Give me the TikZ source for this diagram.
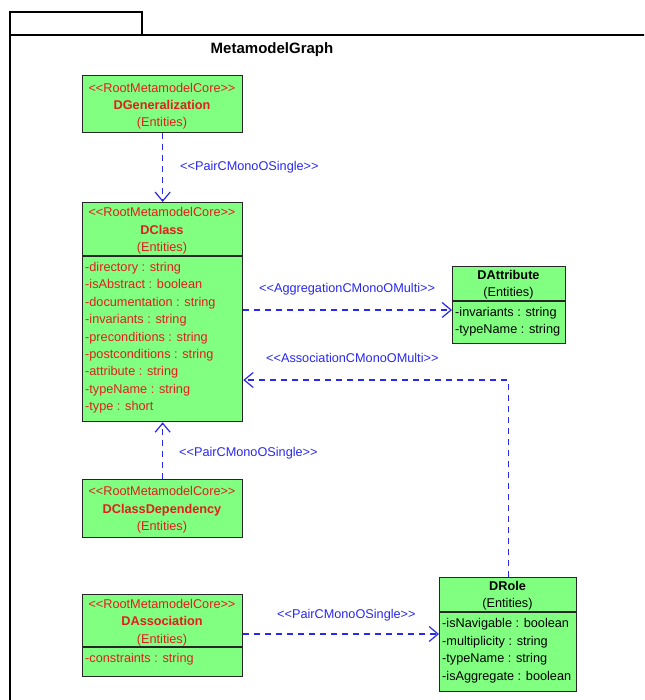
\documentclass[tikz,border=0pt]{standalone}
\usepackage{fontspec}
\setmainfont{Liberation Sans}
\usetikzlibrary{arrows.meta}
\definecolor{umlgreen}{RGB}{128,255,128}
\definecolor{umlred}{RGB}{226,30,30}
\definecolor{umlblue}{RGB}{40,40,240}
\newcommand{\lt}{<{}<}
\newcommand{\gt}{>{}>}
\begin{document}
\begin{tikzpicture}[x=1pt,y=-1pt,
  box/.style={draw=black!85, line width=1.3pt, fill=umlgreen, inner sep=0pt, anchor=north west},
  sepline/.style={draw=black!85, line width=1.3pt},
  txt/.style={font=\fontsize{12.7}{15}\selectfont, inner sep=0pt},
  stereo/.style={txt, text=umlred, anchor=base},
  nm/.style={txt, text=umlred, anchor=base, font=\fontsize{12.7}{15}\selectfont\bfseries},
  ent/.style={txt, text=umlred, anchor=base},
  attr/.style={txt, text=umlred, anchor=base west},
  bnm/.style={txt, text=black, anchor=base, font=\fontsize{12.7}{15}\selectfont\bfseries},
  bent/.style={txt, text=black, anchor=base},
  battr/.style={txt, text=black, anchor=base west},
  lbl/.style={txt, text=umlblue, anchor=base west},
  dep/.style={draw=umlblue, line width=1.2pt, dash pattern=on 6pt off 5pt,
    -{Straight Barb[length=9pt,width=15pt,line width=1.2pt]}}
]
\useasboundingbox (0,0) rectangle (644,700);
\clip (0,0) rectangle (644,700);
% package frame
\draw[line width=1.8pt] (10,720) -- (10,35) -- (660,35);
\draw[line width=1.8pt] (10,35) -- (10,12) -- (142,12) -- (142,35);
\node[font=\fontsize{15}{18}\selectfont\bfseries, inner sep=0pt, anchor=base] (title) at (272,54) {MetamodelGraph};

% DGeneralization
\node[box, minimum width=160pt, minimum height=57pt] (dgen) at (82,75) {};
\node[stereo] (dgen-s) at (162,92.5) {\lt RootMetamodelCore\gt};
\node[nm] (dgen-n) at (162,109.5) {DGeneralization};
\node[ent] (dgen-e) at (162,126.5) {(Entities)};

% DClass
\node[box, minimum width=160pt, minimum height=219pt] (dclass) at (82,202) {};
\draw[sepline] (82,256) -- (242,256);
\node[stereo] (dclass-s) at (162,216.5) {\lt RootMetamodelCore\gt};
\node[nm] (dclass-n) at (162,234.5) {DClass};
\node[ent] (dclass-e) at (162,251.5) {(Entities)};
\node[attr] (dc1) at (85,271.5) {-directory : string};
\node[attr] (dc2) at (85,288.9) {-isAbstract : boolean};
\node[attr] (dc3) at (85,306.3) {-documentation : string};
\node[attr] (dc4) at (85,323.7) {-invariants : string};
\node[attr] (dc5) at (85,341.1) {-preconditions : string};
\node[attr] (dc6) at (85,358.5) {-postconditions : string};
\node[attr] (dc7) at (85,375.9) {-attribute : string};
\node[attr] (dc8) at (85,393.3) {-typeName : string};
\node[attr] (dc9) at (85,410.7) {-type : short};

% DAttribute
\node[box, minimum width=113pt, minimum height=77pt] (dattr) at (452,266) {};
\draw[sepline] (452,301) -- (565,301);
\node[bnm] (dattr-n) at (508.5,279.5) {DAttribute};
\node[bent] (dattr-e) at (508.5,296.5) {(Entities)};
\node[battr] (da1) at (455,316.5) {-invariants : string};
\node[battr] (da2) at (455,333.5) {-typeName : string};

% DClassDependency
\node[box, minimum width=160pt, minimum height=58pt] (ddep) at (82,479) {};
\node[stereo] (ddep-s) at (162,495.5) {\lt RootMetamodelCore\gt};
\node[nm] (ddep-n) at (162,513.5) {DClassDependency};
\node[ent] (ddep-e) at (162,530.5) {(Entities)};

% DAssociation
\node[box, minimum width=160pt, minimum height=82pt] (dassoc) at (82,594) {};
\draw[sepline] (82,647) -- (242,647);
\node[stereo] (dassoc-s) at (162,608.5) {\lt RootMetamodelCore\gt};
\node[nm] (dassoc-n) at (162,625.5) {DAssociation};
\node[ent] (dassoc-e) at (162,643.5) {(Entities)};
\node[attr] (das1) at (85,662.5) {-constraints : string};

% DRole
\node[box, minimum width=137pt, minimum height=114pt] (drole) at (439,577) {};
\draw[sepline] (439,612) -- (576,612);
\node[bnm] (drole-n) at (507.5,590.5) {DRole};
\node[bent] (drole-e) at (507.5,607.5) {(Entities)};
\node[battr] (dr1) at (442,627.8) {-isNavigable : boolean};
\node[battr] (dr2) at (442,645.3) {-multiplicity : string};
\node[battr] (dr3) at (442,662.8) {-typeName : string};
\node[battr] (dr4) at (442,680.3) {-isAggregate : boolean};

% connectors
\draw[dep] (dgen.south) -- (dclass.north);
\node[lbl] (l1) at (180,171) {\lt PairCMonoOSingle\gt};

\draw[dep] (dclass.east |- 0,310) -- (dattr.west |- 0,310);
\node[lbl] (l2) at (259,292.5) {\lt AggregationCMonoOMulti\gt};

\coordinate (bend) at (drole.north |- 0,380);
\draw[dep] (drole.north) -- (bend) -- (dclass.east |- bend);
\node[lbl] (l3) at (266,362.5) {\lt AssociationCMonoOMulti\gt};

\draw[dep] (ddep.north) -- (dclass.south);
\node[lbl] (l4) at (179,456.5) {\lt PairCMonoOSingle\gt};

\draw[dep] (dassoc.east |- 0,634) -- (drole.west |- 0,634);
\node[lbl] (l5) at (277,618.5) {\lt PairCMonoOSingle\gt};
\end{tikzpicture}
\end{document}
